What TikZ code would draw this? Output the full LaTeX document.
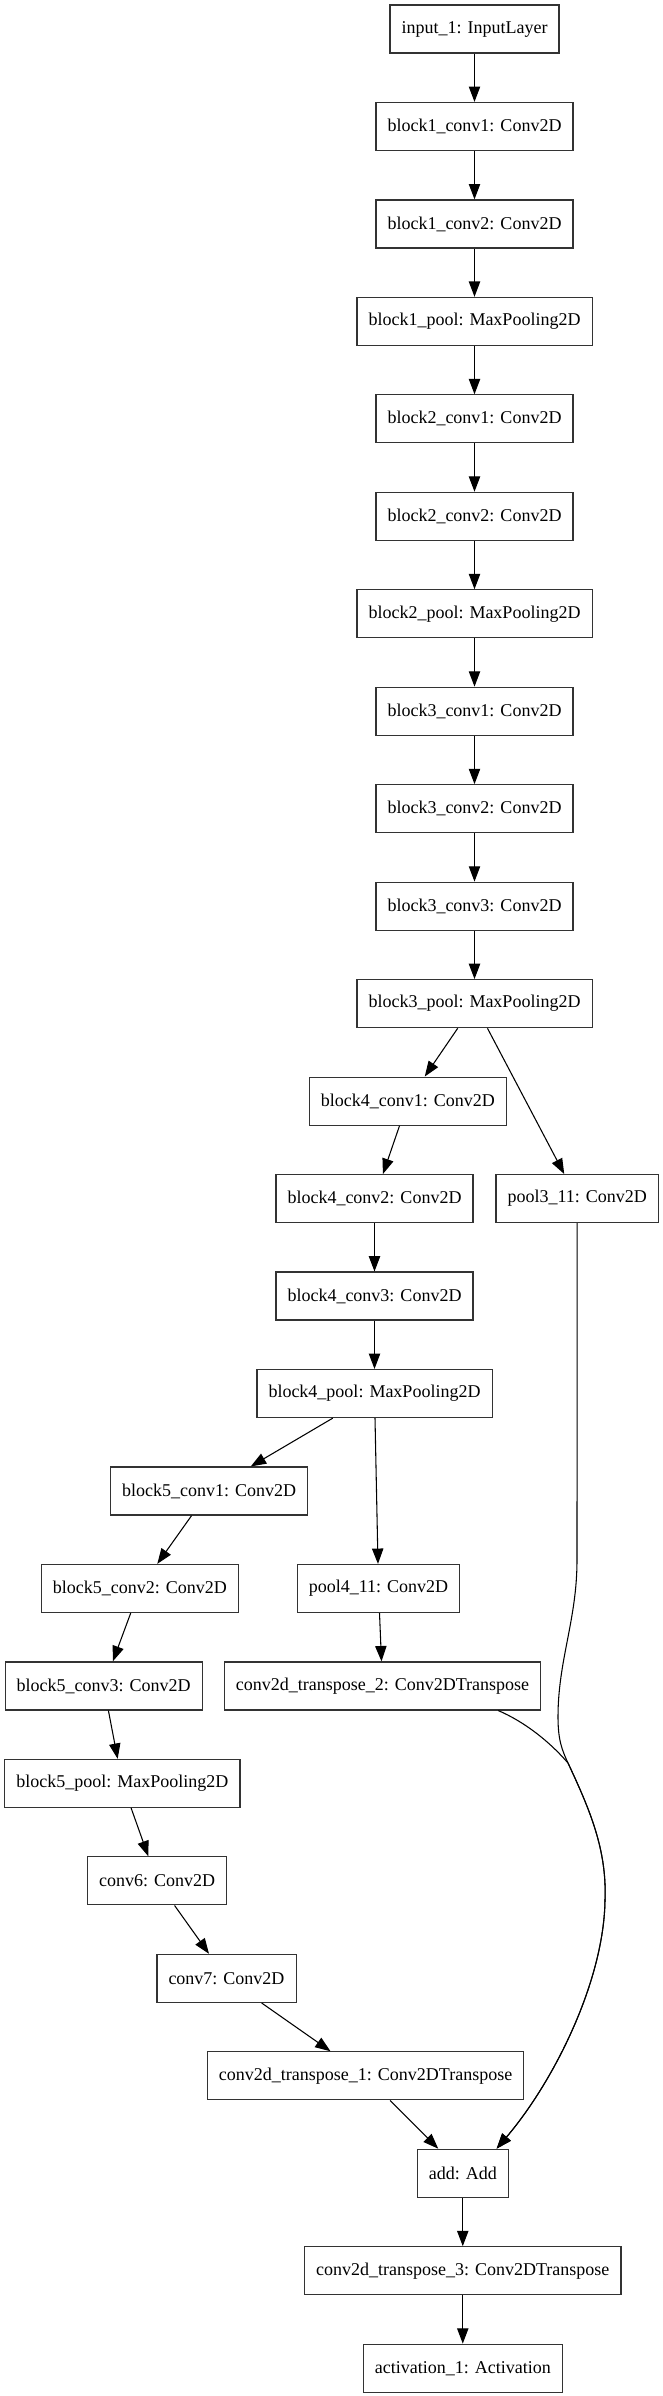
\documentclass[tikz,border=0pt]{standalone}
\usepackage{fontspec}
\setmainfont{Liberation Serif}
\usepackage{tikz}
\usetikzlibrary{positioning,arrows.meta}

\begin{document}
\begin{tikzpicture}[x=0.75pt, y=-0.75pt, node distance=36.2pt,
  layer/.style={rectangle, draw=black!80, line width=0.9pt, minimum height=36pt, inner xsep=8.7pt, font=\fontsize{13.5}{16}\selectfont},
  edge/.style={-{Triangle[length=11.5pt, width=8.5pt]}, line width=0.8pt}]
\useasboundingbox (0,0) rectangle (663,2396);

\node (input) [layer] at (474.5,29) {input\_1: InputLayer};
\node (b1conv1) [layer, below=of input] {block1\_conv1: Conv2D};
\node (b1conv2) [layer, below=of b1conv1] {block1\_conv2: Conv2D};
\node (b1pool) [layer, below=of b1conv2] {block1\_pool: MaxPooling2D};
\node (b2conv1) [layer, below=of b1pool] {block2\_conv1: Conv2D};
\node (b2conv2) [layer, below=of b2conv1] {block2\_conv2: Conv2D};
\node (b2pool) [layer, below=of b2conv2] {block2\_pool: MaxPooling2D};
\node (b3conv1) [layer, below=of b2pool] {block3\_conv1: Conv2D};
\node (b3conv2) [layer, below=of b3conv1] {block3\_conv2: Conv2D};
\node (b3conv3) [layer, below=of b3conv2] {block3\_conv3: Conv2D};
\node (b3pool) [layer, below=of b3conv3] {block3\_pool: MaxPooling2D};
\node (b4conv1) [layer, below=of b3pool, xshift=-49.9pt] {block4\_conv1: Conv2D};
\node (b4conv2) [layer, below=of b4conv1, xshift=-25.1pt] {block4\_conv2: Conv2D};
\node (pool3) [layer, below=of b4conv1, xshift=126.9pt] {pool3\_11: Conv2D};
\node (b4conv3) [layer, below=of b4conv2] {block4\_conv3: Conv2D};
\node (b4pool) [layer, below=of b4conv3] {block4\_pool: MaxPooling2D};
\node (b5conv1) [layer, below=of b4pool, xshift=-124.1pt] {block5\_conv1: Conv2D};
\node (b5conv2) [layer, below=of b5conv1, xshift=-51.9pt] {block5\_conv2: Conv2D};
\node (pool4) [layer, below=of b5conv1, xshift=127.1pt] {pool4\_11: Conv2D};
\node (b5conv3) [layer, below=of b5conv2, xshift=-27.1pt] {block5\_conv3: Conv2D};
\node (trans2) [layer, below=of pool4, xshift=3pt] {conv2d\_transpose\_2: Conv2DTranspose};
\node (b5pool) [layer, below=of b5conv3, xshift=14pt] {block5\_pool: MaxPooling2D};
\node (conv6) [layer, below=of b5pool, xshift=26pt] {conv6: Conv2D};
\node (conv7) [layer, below=of conv6, xshift=52.1pt] {conv7: Conv2D};
\node (trans1) [layer, below=of conv7, xshift=104.3pt] {conv2d\_transpose\_1: Conv2DTranspose};
\node (add) [layer, below=of trans1, xshift=72.9pt] {add: Add};
\node (trans3) [layer, below=of add] {conv2d\_transpose\_3: Conv2DTranspose};
\node (act) [layer, below=of trans3] {activation\_1: Activation};

\draw[edge] (input) -- (b1conv1);
\draw[edge] (b1conv1) -- (b1conv2);
\draw[edge] (b1conv2) -- (b1pool);
\draw[edge] (b1pool) -- (b2conv1);
\draw[edge] (b2conv1) -- (b2conv2);
\draw[edge] (b2conv2) -- (b2pool);
\draw[edge] (b2pool) -- (b3conv1);
\draw[edge] (b3conv1) -- (b3conv2);
\draw[edge] (b3conv2) -- (b3conv3);
\draw[edge] (b3conv3) -- (b3pool);
\draw[edge] (b3pool) -- (b4conv1);
\draw[edge] (b3pool) -- (pool3);
\draw[edge] (b4conv1) -- (b4conv2);
\draw[edge] (b4conv2) -- (b4conv3);
\draw[edge] (b4conv3) -- (b4pool);
\draw[edge] (b4pool) -- (b5conv1);
\draw[edge] (b4pool) -- (pool4);
\draw[edge] (b5conv1) -- (b5conv2);
\draw[edge] (b5conv2) -- (b5conv3);
\draw[edge] (pool4) -- (trans2);
\draw[edge] (b5conv3) -- (b5pool);
\draw[edge] (b5pool) -- (conv6);
\draw[edge] (conv6) -- (conv7);
\draw[edge] (conv7) -- (trans1);
\draw[edge] (trans1) -- (add);
\draw[edge] (add) -- (trans3);
\draw[edge] (trans3) -- (act);

\coordinate (drop) at (577,1560);
\coordinate (bend) at (558,1717);
\coordinate (merge) at (568,1763);
\coordinate (swing) at (605,1900);
\draw[edge] (pool3) -- (drop) .. controls (577,1620) and (558,1660) .. (bend) .. controls (558,1740) and (562,1750) .. (merge) .. controls (590,1810) and (607,1850) .. (swing) .. controls (604,1980) and (555,2080) .. (add.36.6);
\draw[edge] (trans2.-12.4) .. controls (525,1722) and (550,1742) .. (merge) .. controls (590,1810) and (607,1850) .. (swing) .. controls (604,1980) and (555,2080) .. (add.36.6);
\end{tikzpicture}
\end{document}
